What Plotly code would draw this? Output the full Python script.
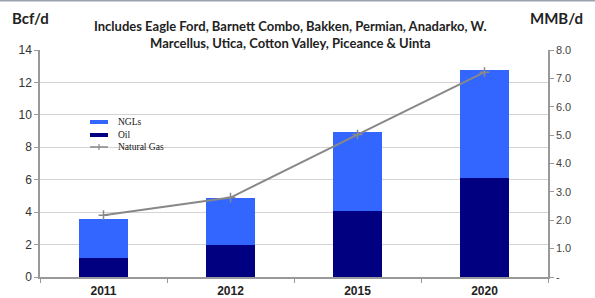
import plotly.graph_objects as go

years = ["2011", "2012", "2015", "2020"]
oil = [1.15, 1.97, 4.07, 6.1]
ngls = [2.43, 2.88, 4.88, 6.68]
natural_gas = [2.18, 2.8, 5.02, 7.22]

left_ticks = [0, 2, 4, 6, 8, 10, 12, 14]
right_ticks = [0, 1, 2, 3, 4, 5, 6, 7, 8]
right_labels = ["-", "1.0", "2.0", "3.0", "4.0", "5.0", "6.0", "7.0", "8.0"]

legend_names = ["NGLs", "Oil", "Natural Gas"]
legend_colors = ["#3366FF", "#000080", "#888888"]

title_text = ("Includes Eagle Ford, Barnett Combo, Bakken, Permian, Anadarko, W.<br>"
              "Marcellus, Utica, Cotton Valley, Piceance & Uinta")

GAS = "#888888"

fig = go.Figure()
fig.add_trace(go.Bar(x=years, y=oil, name="Oil", marker_color="#000080",
                     marker_line_width=0, width=0.39))
fig.add_trace(go.Bar(x=years, y=ngls, name="NGLs", marker_color="#3366FF",
                     marker_line_width=0, width=0.39))
fig.add_trace(go.Scatter(x=years, y=natural_gas, name="Natural Gas", yaxis="y2",
                         mode="lines+markers",
                         line=dict(color=GAS, width=2),
                         marker=dict(symbol="cross-thin", size=7,
                                     line=dict(color=GAS, width=1.5))))

fig.update_layout(
    width=595, height=298,
    margin=dict(l=40, r=47, t=50, b=21),
    paper_bgcolor="white", plot_bgcolor="white",
    barmode="stack",
    showlegend=False,
    xaxis=dict(showline=True, linecolor="#999", linewidth=1.5, automargin=False,
               ticks="outside", ticklen=4, tickcolor="#999", tickson="boundaries",
               ticklabelstandoff=2,
               tickfont=dict(family="Liberation Sans", size=12, color="#222",
                             weight="bold"),
               showgrid=False),
    yaxis=dict(range=[0, 14], tickvals=left_ticks, showline=True, automargin=False,
               linecolor="#999", linewidth=1.5, ticks="outside", ticklen=4,
               tickcolor="#999", gridcolor="#d4d4d4", gridwidth=1,
               tickfont=dict(family="Liberation Sans", size=12, color="#333"),
               zeroline=False),
    yaxis2=dict(range=[0, 8], tickvals=right_ticks, ticktext=right_labels,
                overlaying="y", side="right", showline=True, linecolor="#999",
                linewidth=1.5, ticks="outside", ticklen=4, tickcolor="#999",
                showgrid=False, zeroline=False, automargin=False,
                tickfont=dict(family="Liberation Sans", size=11, color="#444")),
    font=dict(family="Liberation Sans"),
)

# legend (drawn manually to match the tight spacing)
leg_x0, leg_x1 = 90, 108
leg_ys = [122, 135, 147]
W, H = 595, 298
L, R, T, B = 40, 47, 50, 21
pw, ph = W - L - R, H - T - B
def px(x):
    return (x - L) / pw
def py(y):
    return (H - B - y) / ph

for name, color, yy in zip(legend_names, legend_colors, leg_ys):
    if name == "Natural Gas":
        fig.add_shape(type="line", xref="paper", yref="paper",
                      x0=px(leg_x0), x1=px(leg_x1), y0=py(yy), y1=py(yy),
                      line=dict(color=color, width=1.5))
        fig.add_shape(type="line", xref="paper", yref="paper",
                      x0=px(99), x1=px(99), y0=py(yy - 3), y1=py(yy + 3),
                      line=dict(color=color, width=1.2))
    else:
        fig.add_shape(type="rect", xref="paper", yref="paper",
                      x0=px(leg_x0), x1=px(leg_x1), y0=py(yy - 2), y1=py(yy + 2),
                      fillcolor=color, line=dict(width=0))
    fig.add_annotation(text=name, xref="paper", yref="paper", x=px(116), y=py(yy),
                       xanchor="left", yanchor="middle", showarrow=False,
                       font=dict(family="Liberation Serif", size=9.5, color="#111"))

fig.add_annotation(text=title_text, xref="paper", yref="paper", x=px(290), y=py(53),
                   xanchor="center", yanchor="bottom", showarrow=False,
                   align="center",
                   font=dict(family="Lato", size=13, color="#222", weight="bold"))
fig.add_annotation(text="<b>Bcf/d</b>", xref="paper", yref="paper", x=px(10), y=py(18),
                   xanchor="left", yanchor="middle", showarrow=False,
                   font=dict(family="Lato", size=15, color="#222"))
fig.add_annotation(text="<b>MMB/d</b>", xref="paper", yref="paper", x=px(585), y=py(18),
                   xanchor="right", yanchor="middle", showarrow=False,
                   font=dict(family="Lato", size=15, color="#222"))
fig.add_shape(type="line", xref="paper", yref="paper", x0=-0.1, x1=1.2,
              y0=py(0.8), y1=py(0.8), line=dict(color="#9aa4b0", width=1.6))

fig.write_html("out.html", config={"displayModeBar": False},
               post_script="document.body.style.margin='0';"
                           "document.body.style.overflow='hidden';")
